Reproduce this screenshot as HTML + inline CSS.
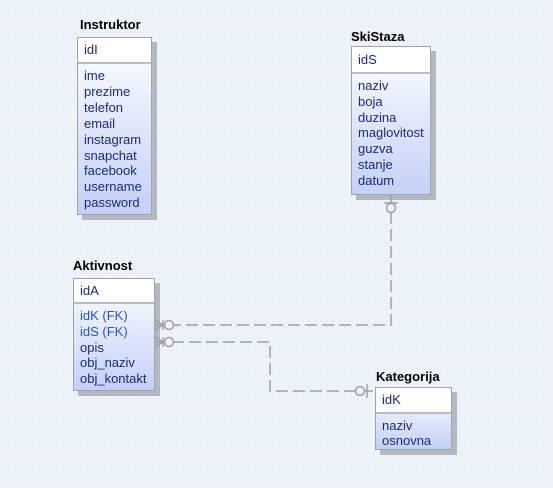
<!DOCTYPE html>
<html><head><meta charset="utf-8"><style>
body{margin:0;width:553px;height:488px;overflow:hidden;background:#eef3fa;
background-image:radial-gradient(#d4dde8 0.6px,transparent 0.8px);background-size:6px 6px;
font-family:"Liberation Sans",sans-serif;position:relative}
.t{position:absolute;font-weight:bold;font-size:13px;color:#000}
.b{position:absolute;box-sizing:border-box;border:1px solid #a0a4ac;background:linear-gradient(#fdfeff,#c4d0f6);box-shadow:5px 5px 0 #b4b8c0;font-size:13px;color:#1c2a7a}
.k{background:#fff;border-bottom:2px solid #b8bcc4;padding:0 0 0 6px;box-sizing:border-box}
.f{padding:4px 0 0 6px;line-height:16px}
.fk{color:#2a52c8}
</style></head><body>
<div class="t" style="left:80px;top:17px">Instruktor</div>
<div class="b" style="left:77px;top:37px;width:75px;height:178px">
<div class="k" style="height:26px;line-height:24px">idI</div>
<div class="f" style="line-height:15.9px">ime<br>prezime<br>telefon<br>email<br>instagram<br>snapchat<br>facebook<br>username<br>password</div></div>

<div class="t" style="left:351px;top:29px">SkiStaza</div>
<div class="b" style="left:351px;top:46px;width:80px;height:149px">
<div class="k" style="height:27px;line-height:25px">idS</div>
<div class="f" style="line-height:15.8px">naziv<br>boja<br>duzina<br>maglovitost<br>guzva<br>stanje<br>datum</div></div>

<div class="t" style="left:73px;top:258px">Aktivnost</div>
<div class="b" style="left:73px;top:278px;width:82px;height:113px">
<div class="k" style="height:25px;line-height:24px">idA</div>
<div class="f" style="line-height:15.8px"><span class="fk">idK (FK)</span><br><span class="fk">idS (FK)</span><br>opis<br>obj_naziv<br>obj_kontakt</div></div>

<div class="t" style="left:376px;top:369px">Kategorija</div>
<div class="b" style="left:375px;top:387px;width:77px;height:63px">
<div class="k" style="height:26px;line-height:24px">idK</div>
<div class="f" style="line-height:15px">naziv<br>osnovna</div></div>

<svg width="553" height="488" style="position:absolute;left:0;top:0" fill="none" stroke="#a0a0a0" stroke-width="1.5">
<path d="M391 195V325H155" stroke-dasharray="12 5"/>
<path d="M155 342H270V391H375" stroke-dasharray="12 5"/>
<line x1="384" y1="203" x2="398" y2="203"/><circle cx="391" cy="208" r="4.5" fill="#eef3fa"/>
<circle cx="169" cy="325" r="4.5" fill="#eef3fa"/><path d="M155 320L163 325L155 330M163 320V330"/>
<circle cx="169" cy="342" r="4.5" fill="#eef3fa"/><path d="M155 337L163 342L155 347M163 337V347"/>
<circle cx="360" cy="391" r="4.5" fill="#eef3fa"/><line x1="367" y1="384" x2="367" y2="398"/>
</svg>
</body></html>
